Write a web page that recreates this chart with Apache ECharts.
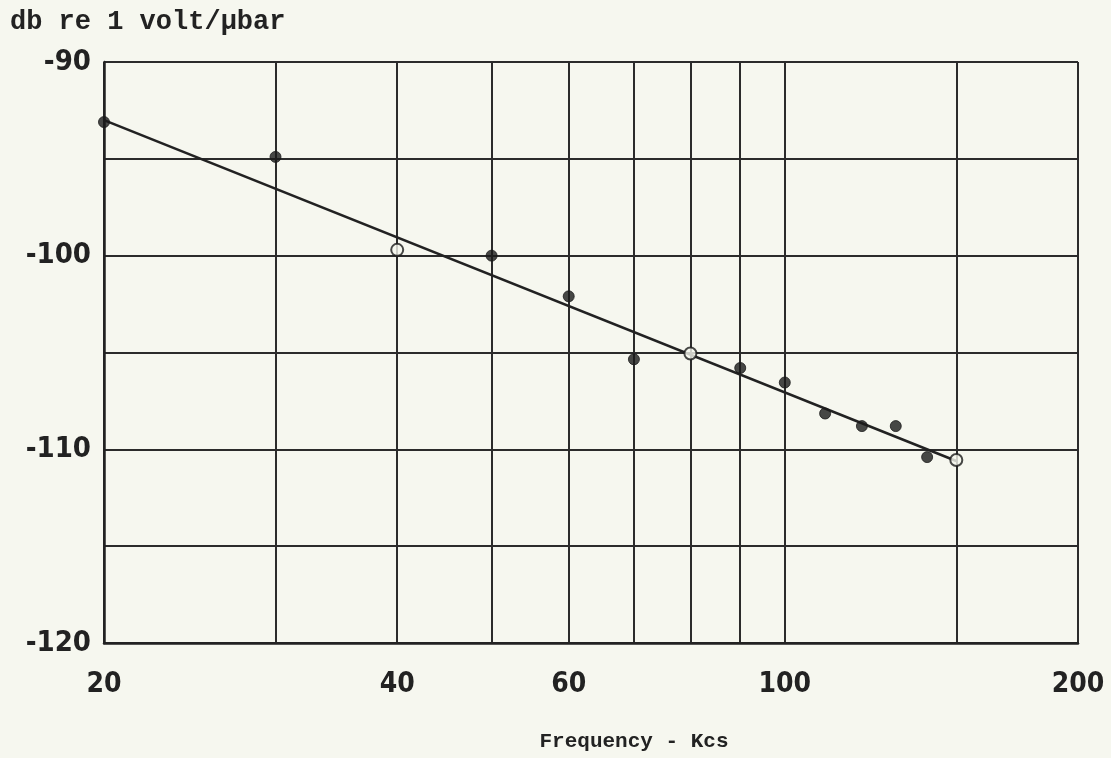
<!DOCTYPE html>
<html>
<head>
<meta charset="utf-8">
<script src="https://cdn.jsdelivr.net/npm/echarts@6/dist/echarts.min.js"></script>
<style>
html,body{margin:0;padding:0;background:#f6f7ef;}
#chart{width:1111px;height:758px;}
</style>
</head>
<body>
<div id="chart"></div>
<script>
// Data
const freqKcs = [20, 30, 40, 50, 60, 70, 80, 90, 100, 110, 120, 130, 140, 150];
const responseDb = [-93.1, -94.9, -99.7, -100.0, -102.1, -105.35, -105.05, -105.8, -106.55, -108.15, -108.8, -108.8, -110.4, -110.55];
const openMarkerFreqs = [40, 80, 150];
const fitLineFreqs = [20, 150];
const fitLineDb = [-93.0, -110.6];
const xGridValues = [20, 30, 40, 50, 60, 70, 80, 90, 100, 150, 200];
const xLabelValues = [20, 40, 60, 100, 200];
const yLabelValues = [-90, -100, -110, -120];
const yAxisTitle = 'db re 1 volt/\u03bcbar';
const xAxisTitle = 'Frequency - Kcs';

const ink = '#222';
const bg = '#f6f7ef';
const tickFont = "'Liberation Sans Narrow', 'DejaVu Sans Condensed', sans-serif";
const monoFont = "'Liberation Mono', 'DejaVu Sans Mono', monospace";

const filledPts = [], openPts = [];
freqKcs.forEach((f, i) => {
  if (openMarkerFreqs.indexOf(f) >= 0) openPts.push([f, responseDb[i]]);
  else filledPts.push([f, responseDb[i]]);
});
const linePts = fitLineFreqs.map((f, i) => [f, fitLineDb[i]]);

const chart = echarts.init(document.getElementById('chart'), null, {renderer: 'canvas'});
chart.setOption({
  backgroundColor: bg,
  animation: false,
  title: {
    text: yAxisTitle,
    left: 5,
    top: 4,
    textStyle: {fontFamily: monoFont, fontWeight: 'bold', fontSize: 27, color: ink}
  },
  grid: {left: 104, right: 33, top: 62, bottom: 115, containLabel: false, outerBoundsMode: 'none'},
  xAxis: {
    type: 'log',
    logBase: 10,
    min: 20,
    max: 200,
    name: xAxisTitle,
    nameLocation: 'middle',
    nameGap: 88,
    nameTextStyle: {fontFamily: monoFont, fontSize: 21, fontWeight: 'bold', color: ink, padding: [0, 0, 0, 86]},
    axisLine: {show: true, lineStyle: {color: ink, width: 2.5}},
    axisTick: {show: false, customValues: xGridValues},
    axisLabel: {
      customValues: xLabelValues,
      margin: 28,
      fontFamily: tickFont,
      fontWeight: 'bold',
      fontSize: 28,
      color: ink
    },
    splitLine: {show: true, lineStyle: {color: '#2b2b2b', width: 2}}
  },
  yAxis: {
    type: 'value',
    min: -120,
    max: -90,
    interval: 5,
    axisLine: {show: true, lineStyle: {color: ink, width: 2.5}},
    axisTick: {show: false},
    axisLabel: {
      margin: 13,
      fontFamily: tickFont,
      fontWeight: 'bold',
      fontSize: 29,
      color: ink,
      formatter: v => (yLabelValues.indexOf(v) >= 0 ? String(v) : '')
    },
    splitLine: {show: true, lineStyle: {color: '#2b2b2b', width: 2}}
  },
  series: [
    {
      type: 'line',
      data: linePts,
      showSymbol: false,
      symbol: 'none',
      lineStyle: {color: ink, width: 2.6},
      z: 3
    },
    {
      type: 'scatter',
      data: filledPts,
      symbol: 'circle',
      symbolSize: 11,
      itemStyle: {color: '#1a1a1a', borderColor: '#1a1a1a', borderWidth: 1},
      z: 4
    },
    {
      type: 'scatter',
      data: openPts,
      symbol: 'circle',
      symbolSize: 12,
      itemStyle: {color: bg, borderColor: '#1a1a1a', borderWidth: 2},
      z: 4
    }
  ]
});
</script>
</body>
</html>
